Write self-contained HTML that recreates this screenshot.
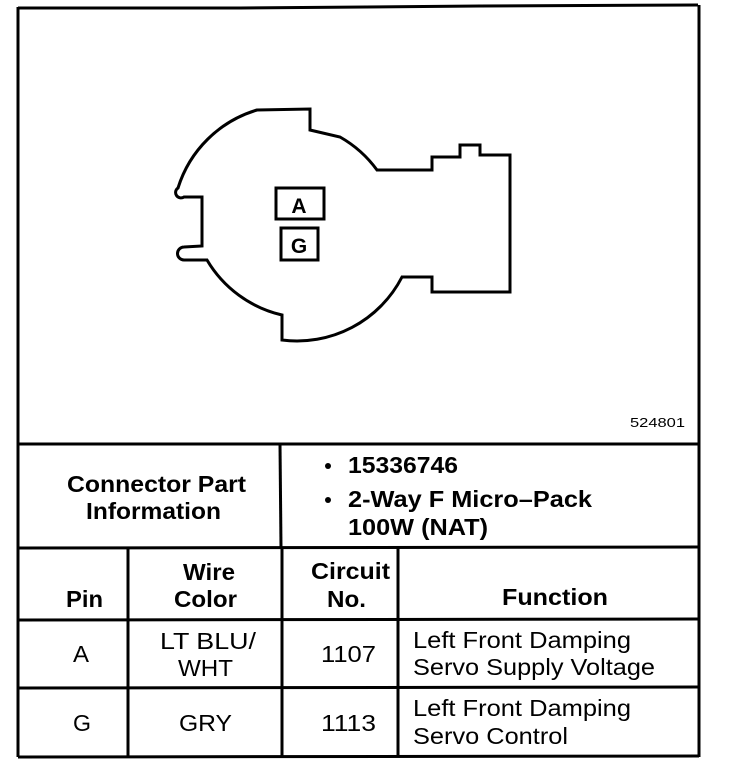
<!DOCTYPE html>
<html><head><meta charset="utf-8"><style>
html,body{margin:0;padding:0;background:#fff;}
svg{display:block;}
text{font-family:"Liberation Sans",Arial,sans-serif;fill:#000;}
.b{font-weight:bold;font-size:23px;}
.r{font-size:23px;}
</style></head><body>
<svg width="736" height="776" viewBox="0 0 736 776" xmlns="http://www.w3.org/2000/svg">
<g stroke="#000" stroke-width="3" fill="none">
<path d="M18,8 L240,8 L480,6 L698,5"/>
<line x1="18" y1="7" x2="18" y2="757"/>
<line x1="699" y1="5" x2="699" y2="757"/>
<line x1="18" y1="444" x2="699" y2="444"/>
<line x1="18" y1="548" x2="699" y2="547"/>
<line x1="18" y1="620" x2="699" y2="619"/>
<line x1="18" y1="688" x2="699" y2="687"/>
<line x1="18" y1="757" x2="699" y2="756"/>
<line x1="280" y1="444" x2="281" y2="548"/>
<line x1="128" y1="548" x2="128" y2="757"/>
<line x1="282" y1="548" x2="282" y2="757"/>
<line x1="398" y1="547" x2="398" y2="757"/>
<path d="M257,110 L310,109 L310,130 L340,137 A118,118 0 0 1 377,170 L432,170 L432,157 L460,157 L460,145 L480,145 L480,155 L510,155 L510,292 L432,292 L432,277 L402,277 A118,118 0 0 1 282,340 L282,315 A118,118 0 0 1 207,260 L184,260 A6.5,6.5 0 0 1 184,247 L202,246 L202,197 L184,197 A5,5 0 0 1 178,188 A118,118 0 0 1 257,110 Z"/>
<rect x="276" y="188" width="48" height="31"/>
<rect x="281" y="228" width="37" height="32"/>
</g>
<text x="299" y="213" font-size="21" font-weight="bold" text-anchor="middle">A</text>
<text x="299" y="253" font-size="21" font-weight="bold" text-anchor="middle">G</text>
<text x="630" y="427" font-size="13" textLength="55" lengthAdjust="spacingAndGlyphs">524801</text>

<text class="b" x="67" y="492" textLength="179" lengthAdjust="spacingAndGlyphs">Connector Part</text>
<text class="b" x="86" y="519" textLength="135" lengthAdjust="spacingAndGlyphs">Information</text>
<circle cx="328" cy="466" r="3" fill="#000"/>
<circle cx="328" cy="500" r="3" fill="#000"/>
<text class="b" x="348" y="473" textLength="110" lengthAdjust="spacingAndGlyphs">15336746</text>
<text class="b" x="348" y="507" textLength="244" lengthAdjust="spacingAndGlyphs">2-Way F Micro–Pack</text>
<text class="b" x="348" y="535" textLength="140" lengthAdjust="spacingAndGlyphs">100W (NAT)</text>

<text class="b" x="66" y="607" textLength="37" lengthAdjust="spacingAndGlyphs">Pin</text>
<text class="b" x="183" y="580" textLength="52" lengthAdjust="spacingAndGlyphs">Wire</text>
<text class="b" x="174" y="607" textLength="63" lengthAdjust="spacingAndGlyphs">Color</text>
<text class="b" x="311" y="579" textLength="79" lengthAdjust="spacingAndGlyphs">Circuit</text>
<text class="b" x="327" y="607" textLength="39" lengthAdjust="spacingAndGlyphs">No.</text>
<text class="b" x="502" y="605" textLength="106" lengthAdjust="spacingAndGlyphs">Function</text>

<text class="r" x="73" y="662" textLength="16" lengthAdjust="spacingAndGlyphs">A</text>
<text class="r" x="160" y="649" textLength="96" lengthAdjust="spacingAndGlyphs">LT BLU/</text>
<text class="r" x="178" y="676" textLength="55" lengthAdjust="spacingAndGlyphs">WHT</text>
<text class="r" x="321" y="662" textLength="55" lengthAdjust="spacingAndGlyphs">1107</text>
<text class="r" x="413" y="648" textLength="218" lengthAdjust="spacingAndGlyphs">Left Front Damping</text>
<text class="r" x="413" y="675" textLength="242" lengthAdjust="spacingAndGlyphs">Servo Supply Voltage</text>

<text class="r" x="73" y="731" textLength="18" lengthAdjust="spacingAndGlyphs">G</text>
<text class="r" x="179" y="731" textLength="53" lengthAdjust="spacingAndGlyphs">GRY</text>
<text class="r" x="321" y="731" textLength="55" lengthAdjust="spacingAndGlyphs">1113</text>
<text class="r" x="413" y="716" textLength="218" lengthAdjust="spacingAndGlyphs">Left Front Damping</text>
<text class="r" x="413" y="744" textLength="155" lengthAdjust="spacingAndGlyphs">Servo Control</text>
</svg>
</body></html>
